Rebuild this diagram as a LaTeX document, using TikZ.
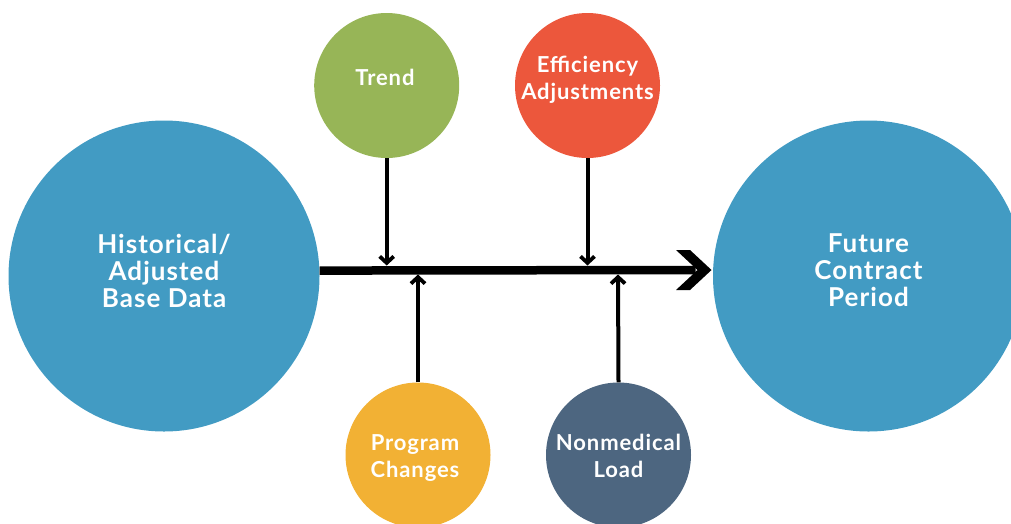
\documentclass[tikz,border=0pt]{standalone}
\usepackage{fontspec}
\setmainfont{Lato}[LetterSpace=4]
\usetikzlibrary{arrows.meta,calc}

\definecolor{baseblue}{HTML}{429BC3}
\definecolor{trendgreen}{HTML}{97B557}
\definecolor{effred}{HTML}{EC573C}
\definecolor{proggold}{HTML}{F2B134}
\definecolor{loadslate}{HTML}{4D6680}

\tikzset{
  bigdisc/.style={circle, fill=baseblue, draw=none, inner sep=0pt, minimum size=311pt},
  smalldisc/.style={circle, draw=none, inner sep=0pt, minimum size=145pt},
  bigtext/.style={text=white, font=\bfseries\fontsize{26}{27}\selectfont, align=center, inner sep=0pt},
  smalltext/.style={text=white, font=\bfseries\fontsize{22}{27}\selectfont, align=center, inner sep=0pt},
  feeder/.style={line width=4pt, -{Straight Barb[length=6.5pt,width=14pt,line width=3.8pt]}},
  spine/.style={line width=8.5pt},
}

\begin{document}
\begin{tikzpicture}[x=1pt,y=-1pt]
  \useasboundingbox (0,0) rectangle (1011,523);

  % main discs
  \node[bigdisc] (hist) at (164,276) {};
  \node[bigdisc] (future) at (868.5,276) {};

  % contributing factors
  \node[smalldisc, fill=trendgreen] (trend) at (386.7,85.5) {};
  \node[smalldisc, fill=effred] (eff) at (587.5,85.5) {};
  \node[smalldisc, fill=proggold] (prog) at (418,455) {};
  \node[smalldisc, fill=loadslate] (load) at (618.5,455) {};

  % labels
  \node[bigtext] (histlbl) at (164,270.5) {Historical/\\Adjusted\\Base Data};
  \node[bigtext] (futurelbl) at (868.5,270.5) {Future\\Contract\\Period};
  \node[smalltext] (trendlbl) at (385,77) {Trend};
  \node[smalltext] (efflbl) at (587.5,80) {Efficiency\\Adjustments};
  \node[smalltext] (proglbl) at (415,458) {Program\\Changes};
  \node[smalltext] (loadlbl) at (618.5,455.5) {Nonmedical\\Load};

  % spine of the diagram
  \coordinate (spinestart) at (hist.2.2);
  \coordinate (spinetip) at (711.5,270);
  \draw[spine] (spinestart) -- ($(spinetip)+(-16,0)$);
  \fill ($(spinetip)+(-35.5,-20)$) -- ($(spinetip)+(-21.5,-20)$) -- (spinetip)
        -- ($(spinetip)+(-21.5,20)$) -- ($(spinetip)+(-35.5,20)$) -- ($(spinetip)+(-14,0)$) -- cycle;

  % where the feeders meet the spine
  \coordinate (trendhit) at (386.7,265.5);
  \coordinate (effhit) at (587.5,265.5);
  \coordinate (proghit) at (418,274.5);
  \coordinate (loadhit) at (618,274.5);

  \draw[feeder] (trend.south) -- (trendhit);
  \draw[feeder] (eff.south) -- (effhit);
  \draw[feeder] (prog.north) -- (proghit);
  \draw[feeder] (load.north) -- (loadhit);
\end{tikzpicture}
\end{document}
